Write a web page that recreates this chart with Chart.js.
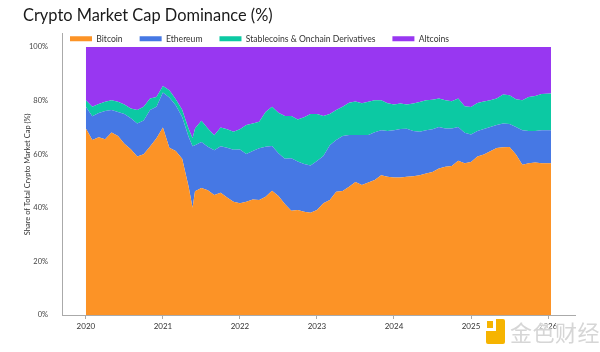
<!DOCTYPE html>
<html>
<head>
<meta charset="utf-8">
<script src="https://cdn.jsdelivr.net/npm/chart.js@4.4.1/dist/chart.umd.min.js"></script>
<style>
  html, body { margin: 0; padding: 0; background: #fff; }
  #wrap { position: relative; width: 600px; height: 352px; }
  #watermark { position: absolute; left: 486px; top: 315px; display: flex; align-items: center; }
  #watermark .logo { width: 19px; height: 25px; background: #f6b400; border-radius: 2px; position: relative; margin-right: 5px; }
  #watermark .logo::after { content: ""; position: absolute; left: 0; top: 0; width: 10px; height: 12px; background: #fff; }
  #watermark .logo::before { content: ""; position: absolute; left: 1px; top: 2px; width: 6px; height: 7px; background: #f6b400; z-index: 1; }
  #watermark .txt { font-family: "Noto Sans CJK SC", sans-serif; font-size: 22px; color: #d6d6d6; letter-spacing: 0.5px;
    text-shadow: 0 0 2px #fff, 0 0 2px #fff, 0 0 3px #fff; }
</style>
</head>
<body>
<div id="wrap">
  <canvas id="domChart" width="600" height="352"></canvas>
  <div id="watermark"><span class="logo"></span><span class="txt">金色财经</span></div>
</div>
<script>
// DATA
const dates = [
  "2020-01-01", "2020-02-01", "2020-03-01", "2020-04-01", "2020-05-01", "2020-06-01",
  "2020-07-01", "2020-08-01", "2020-09-01", "2020-10-01", "2020-11-01", "2020-12-01",
  "2021-01-01", "2021-02-01", "2021-03-01", "2021-04-01", "2021-05-01", "2021-05-20",
  "2021-06-01", "2021-07-01", "2021-08-01", "2021-09-01", "2021-10-01", "2021-11-01", "2021-12-01",
  "2022-01-01", "2022-02-01", "2022-03-01", "2022-04-01", "2022-05-01", "2022-06-01",
  "2022-07-01", "2022-08-01", "2022-09-01", "2022-10-01", "2022-11-01", "2022-12-01",
  "2023-01-01", "2023-02-01", "2023-03-01", "2023-04-01", "2023-05-01", "2023-06-01",
  "2023-07-01", "2023-08-01", "2023-09-01", "2023-10-01", "2023-11-01", "2023-12-01",
  "2024-01-01", "2024-02-01", "2024-03-01", "2024-04-01", "2024-05-01", "2024-06-01",
  "2024-07-01", "2024-08-01", "2024-09-01", "2024-10-01", "2024-11-01", "2024-12-01",
  "2025-01-01", "2025-02-01", "2025-03-01", "2025-04-01", "2025-05-01", "2025-06-01",
  "2025-07-01", "2025-08-01", "2025-09-01", "2025-10-01", "2025-11-01", "2025-12-01",
  "2026-01-15"
];

const bitcoin = [
  69.6, 65.3, 66.3, 65.6, 68.1, 66.8, 63.9, 61.9, 59.2, 60.0, 62.9, 66.0,
  70.0, 62.4, 61.2, 58.3, 48.0, 40.0, 46.2, 47.4, 46.6, 44.8, 45.6, 43.9, 42.3,
  41.7, 42.3, 43.1, 42.9, 44.1, 46.4, 44.4, 41.4, 38.9, 39.2, 38.5, 38.2,
  39.2, 41.7, 42.9, 46.0, 46.3, 47.9, 49.6, 48.5, 49.5, 50.4, 52.2, 51.6,
  51.3, 51.3, 51.6, 51.8, 52.2, 52.8, 53.4, 54.7, 55.3, 55.6, 57.6, 56.6,
  57.1, 59.2, 59.9, 61.1, 62.3, 62.6, 62.7, 59.9, 56.1, 56.6, 56.9, 56.6,
  56.6
];

const ethereum = [
  8.1, 8.9, 9.1, 10.5, 8.4, 9.0, 11.1, 11.5, 12.3, 12.6, 13.6, 11.7,
  13.0, 18.8, 17.1, 15.6, 18.5, 23.0, 17.2, 17.2, 16.2, 16.7, 17.4, 18.5, 19.4,
  20.1, 17.8, 18.1, 19.3, 18.7, 16.7, 16.0, 16.9, 19.6, 18.1, 17.9, 17.6,
  18.3, 17.6, 20.5, 19.3, 20.5, 19.3, 17.6, 18.7, 17.7, 17.8, 16.8, 17.1,
  17.7, 18.1, 17.9, 16.9, 16.2, 16.2, 15.9, 15.5, 14.3, 14.0, 12.6, 11.4,
  10.3, 9.5, 9.5, 9.1, 8.6, 8.9, 8.6, 10.3, 12.9, 12.1, 11.8, 12.4,
  12.4
];

const stablecoins = [
  2.5, 3.5, 3.4, 3.5, 3.7, 3.8, 3.6, 3.7, 5.0, 5.1, 4.3, 3.7,
  2.5, 2.7, 2.2, 2.7, 3.0, 3.0, 6.2, 7.9, 6.8, 5.6, 7.0, 6.9, 6.7,
  7.5, 10.8, 10.3, 9.9, 13.0, 14.6, 15.1, 16.0, 15.8, 15.7, 17.4, 19.2,
  17.5, 15.0, 11.6, 11.2, 10.9, 12.0, 12.5, 11.8, 12.4, 12.0, 11.2, 10.3,
  9.6, 9.5, 9.1, 10.2, 11.1, 11.2, 11.0, 10.6, 10.6, 10.2, 10.6, 9.9,
  10.2, 10.4, 10.3, 10.0, 9.9, 10.8, 10.7, 10.3, 11.2, 12.7, 13.0, 13.5,
  13.7
];

const altcoins = [
  19.8, 22.3, 21.2, 20.4, 19.8, 20.4, 21.4, 22.9, 23.5, 22.3, 19.2, 18.6,
  14.5, 16.1, 19.5, 23.4, 30.5, 34.0, 30.4, 27.5, 30.4, 32.9, 30.0, 30.7, 31.6,
  30.7, 29.1, 28.5, 27.9, 24.2, 22.3, 24.5, 25.7, 25.7, 27.0, 26.2, 25.0,
  25.0, 25.7, 25.0, 23.5, 22.3, 20.8, 20.3, 21.0, 20.4, 19.8, 19.8, 21.0,
  21.4, 21.1, 21.4, 21.1, 20.5, 19.8, 19.7, 19.2, 19.8, 20.2, 19.2, 22.1,
  22.4, 20.9, 20.3, 19.8, 19.2, 17.7, 18.0, 19.5, 19.8, 18.6, 18.3, 17.5,
  17.3
];

const yearTicks = [2020, 2021, 2022, 2023, 2024, 2025, 2026];
const percentTicks = [0, 20, 40, 60, 80, 100];

// HELPERS
const FONT = "Lato, 'Noto Sans', sans-serif";

function toYear(d) {
  const [y, m, day] = d.split("-").map(Number);
  return y + (m - 1) / 12 + (day - 1) / 365;
}
const xs = dates.map(toYear);

function series(label, values, color, fill) {
  return {
    label: label,
    data: values.map((v, i) => ({ x: xs[i], y: v })),
    backgroundColor: color,
    borderColor: color,
    borderWidth: 0,
    pointRadius: 0,
    tension: 0,
    fill: fill
  };
}

// legend takes no layout room, then gets moved into the blank strip above 100%
const legendPlacer = {
  id: "legendPlacer",
  beforeLayout(chart) {
    const lg = chart.legend;
    if (lg && !lg._zeroFit) {
      const fit = lg.fit;
      lg.fit = function () { fit.call(this); this.height = 0; };
      lg._zeroFit = true;
    }
  },
  afterLayout(chart) {
    const lg = chart.legend;
    lg.left = 53;
    lg.right = 590;
    lg.top = 17.5;
    lg.bottom = 60;
  }
};

// CHART
new Chart(document.getElementById("domChart"), {
  type: "line",
  data: {
    datasets: [
      series("Bitcoin", bitcoin, "#FC9326", "origin"),
      series("Ethereum", ethereum, "#4678E4", "-1"),
      series("Stablecoins & Onchain Derivatives", stablecoins, "#0CC9A3", "-1"),
      series("Altcoins", altcoins, "#9837F1", "-1")
    ]
  },
  options: {
    responsive: false,
    animation: false,
    devicePixelRatio: 1,
    layout: { padding: { left: 23, right: 25, top: 4, bottom: 20 } },
    plugins: {
      title: {
        display: true,
        text: "Crypto Market Cap Dominance (%)",
        align: "start",
        color: "#1a1a1a",
        font: { family: FONT, size: 16.4, weight: "normal" },
        padding: { top: 2, bottom: 8 }
      },
      legend: {
        position: "top",
        align: "start",
        labels: {
          boxWidth: 22,
          boxHeight: 5,
          padding: 17,
          color: "#333",
          font: { family: FONT, size: 8.6 }
        }
      },
      tooltip: { enabled: false }
    },
    scales: {
      x: {
        type: "linear",
        min: 2019.69,
        max: 2026.35,
        afterBuildTicks: s => { s.ticks = yearTicks.map(v => ({ value: v })); },
        afterFit: s => { s.height = 17; },
        ticks: {
          callback: v => String(v),
          color: "#333",
          padding: 3,
          maxRotation: 0,
          font: { family: FONT, size: 8 }
        },
        grid: { drawOnChartArea: false, drawTicks: true, tickLength: 4, color: "#aaa" },
        border: { display: true, color: "#aaa" }
      },
      y: {
        stacked: true,
        min: 0,
        max: 105,
        afterBuildTicks: s => { s.ticks = percentTicks.map(v => ({ value: v })); },
        afterFit: s => { s.width = 39; },
        ticks: {
          callback: v => v + "%",
          color: "#444",
          padding: 6,
          font: { family: FONT, size: 7.5 }
        },
        grid: { display: false },
        border: { display: true, color: "#aaa" },
        title: {
          display: true,
          text: "Share of Total Crypto Market Cap (%)",
          color: "#333",
          padding: { top: 0, bottom: 0 },
          font: { family: FONT, size: 7.5 }
        }
      }
    }
  },
  plugins: [legendPlacer]
});
</script>
</body>
</html>
